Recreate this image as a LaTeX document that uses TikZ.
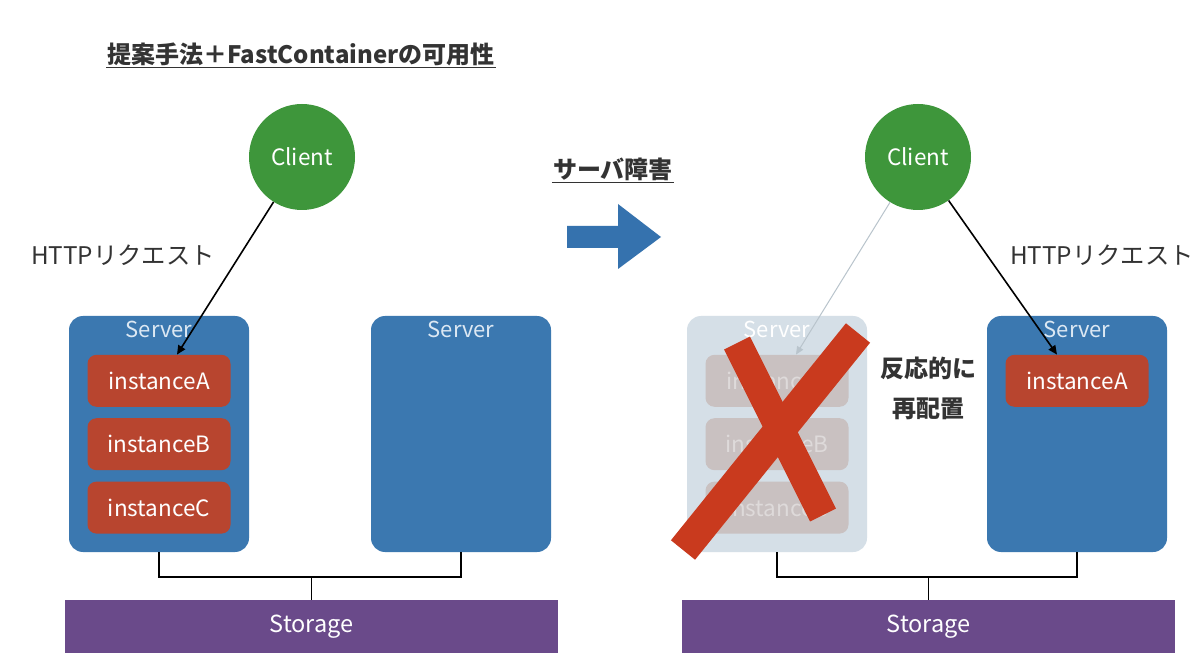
\documentclass[tikz,border=0pt]{standalone}
\usepackage{fontspec}
\setmainfont{Noto Sans CJK JP}
\usetikzlibrary{positioning,arrows.meta}

\definecolor{clientgreen}{HTML}{3E963B}
\definecolor{serverblue}{HTML}{3B78B0}
\definecolor{instred}{HTML}{B8452F}
\definecolor{storpurple}{HTML}{6A4A8A}
\definecolor{fadeblue}{HTML}{D5DFE7}
\definecolor{fadegray}{HTML}{C9C1C1}
\definecolor{fadetext}{HTML}{DEDADA}
\definecolor{fadearrow}{HTML}{B9C4CC}
\definecolor{crossred}{HTML}{C93A1E}
\definecolor{textgray}{HTML}{333333}
\definecolor{arrowblue}{HTML}{3572AE}
\definecolor{serverlab}{HTML}{DCE8F3}

\tikzset{
  client/.style={circle, fill=clientgreen, text=white, minimum size=106pt, inner sep=0pt,
    font=\fontsize{22.5}{26}\selectfont},
  server/.style={rounded corners=14pt, fill=serverblue, minimum width=180pt, minimum height=236pt, inner sep=0pt},
  fadeserver/.style={server, fill=fadeblue},
  serverlabel/.style={text=serverlab, inner sep=0pt, font=\fontsize{22}{26}\selectfont},
  instance/.style={rounded corners=9pt, fill=instred, text=white, minimum width=143pt, minimum height=52pt,
    inner sep=0pt, font=\fontsize{22.5}{26}\selectfont},
  fadeinstance/.style={instance, fill=fadegray, text=fadetext},
  storage/.style={fill=storpurple, text=white, minimum width=493pt, minimum height=53pt, inner sep=0pt,
    font=\fontsize{23.5}{27}\selectfont},
  wire/.style={line width=1.8pt},
  req/.style={-{Triangle[length=9pt,width=8pt]}, line width=1.6pt},
  fadereq/.style={-{Triangle[length=8pt,width=7pt]}, line width=1pt, fadearrow},
  caption/.style={text=textgray, inner sep=1pt, font=\fontsize{24.3}{28}\selectfont},
  heading/.style={text=textgray, inner sep=1pt, font=\bfseries\fontsize{24}{28}\selectfont},
  crossline/.style={crossred, line width=31pt}
}

\begin{document}
\begin{tikzpicture}[x=1pt,y=-1pt]

  \useasboundingbox[fill=white] (0,0) rectangle (1200,668);

  % Titol
  \node[heading] (title) at (301,54) {提案手法＋FastContainerの可用性};
  \draw[textgray, line width=1.2pt] ([yshift=-1pt]title.south west) -- ([yshift=-1pt]title.south east);

  % ---------- Abans ----------
  \node[client] (c1) at (302,157) {Client};
  \node[caption] (h1) at (123,255) {HTTPリクエスト};

  % Servidors
  \node[server] (s1) at (159,434) {};
  \node[serverlabel] (s1lab) at ([yshift=-14pt]s1.north) {Server};
  \node[server] (s2) at (461,434) {};
  \node[serverlabel] (s2lab) at ([yshift=-14pt]s2.north) {Server};

  % Instancies
  \node[instance] (ia) at ([yshift=-65pt]s1.north) {instanceA};
  \node[instance, below=11pt of ia] (ib) {instanceB};
  \node[instance, below=11pt of ib] (ic) {instanceC};

  % Peticio
  \draw[req] (c1) -- ([xshift=18pt]ia.north);

  % Storage
  \node[storage] (st1) at (311.5,626.5) {Storage};
  \coordinate (j1) at (st1.north |- 0,577);
  \draw[wire] (s1.south) |- (j1) -| (s2.south);
  \draw[wire] (j1) -- (st1.north);

  % ---------- Fletxa ----------
  \node[heading] (fail) at (613,169) {サーバ障害};
  \draw[textgray, line width=1.2pt] ([yshift=-1pt]fail.south west) -- ([yshift=-1pt]fail.south east);
  \fill[arrowblue] (567,226) -- (618,226) -- (618,204) -- (661,237) -- (618,269) -- (618,248) -- (567,248) -- cycle;

  % ---------- Despres ----------
  \node[client] (c2) at (918,157) {Client};
  \node[caption] (h2) at (1102,255) {HTTPリクエスト};

  % Servidor caigut
  \node[fadeserver] (s3) at (777,434) {};
  \node[serverlabel, text=white] (s3lab) at ([yshift=-14pt]s3.north) {Server};
  \node[fadeinstance] (fa) at ([yshift=-65pt]s3.north) {instanceA};
  \node[fadeinstance, below=11pt of fa] (fb) {instanceB};
  \node[fadeinstance, below=11pt of fb] (fc) {instanceC};
  \draw[fadereq] (c2) -- ([xshift=19pt]fa.north);

  % Creu
  \draw[crossline] (683,550) -- (858,333);
  \draw[crossline, line width=29pt] (737,343) -- (823,515);

  % Servidor nou
  \node[server] (s4) at (1077,434) {};
  \node[serverlabel] (s4lab) at ([yshift=-14pt]s4.north) {Server};
  \node[instance] (na) at ([yshift=-65pt]s4.north) {instanceA};
  \draw[req] (c2) -- ([xshift=-20pt]na.north);

  % Text reubicacio
  \node[heading] (re1) at (928,368) {反応的に};
  \node[heading] (re2) at (928,409) {再配置};

  % Storage
  \node[storage] (st2) at (928.5,626.5) {Storage};
  \coordinate (j2) at (st2.north |- 0,577);
  \draw[wire] (s3.south) |- (j2) -| (s4.south);
  \draw[wire] (j2) -- (st2.north);

\end{tikzpicture}
\end{document}
